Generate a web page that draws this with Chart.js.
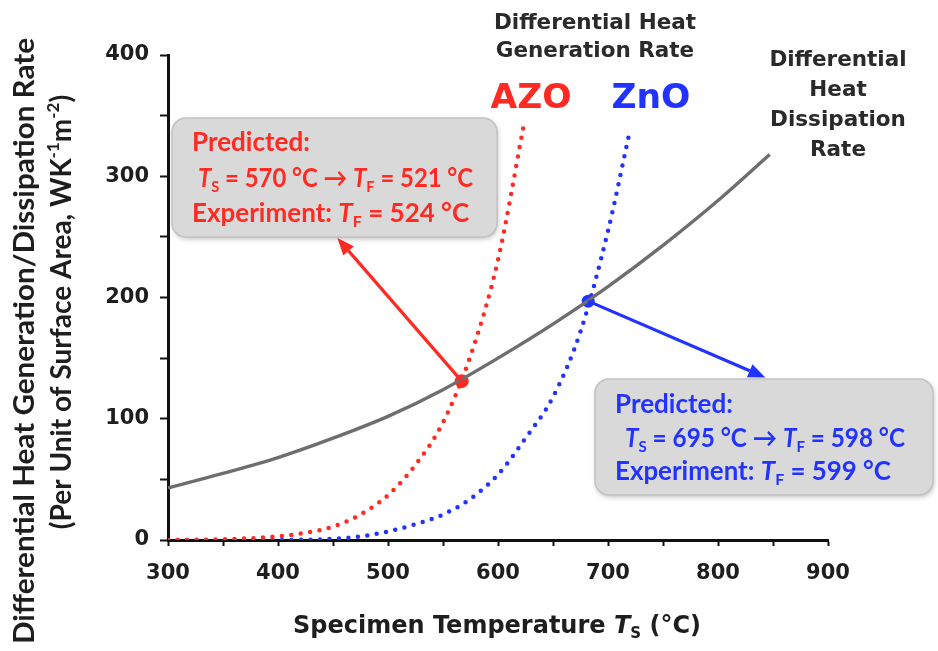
<!DOCTYPE html>
<html>
<head>
<meta charset="utf-8">
<script src="https://cdn.jsdelivr.net/npm/chart.js@4.4.1/dist/chart.umd.min.js"></script>
<style>
  html,body{margin:0;padding:0;background:#fff;}
  #wrap{width:938px;height:651px;}
</style>
</head>
<body>
<div id="wrap"><canvas id="heatChart" width="938" height="651"></canvas></div>
<script>
// Heat dissipation (grey) and heat generation curves for AZO / ZnO
const dissTemp=[300,350,400,450,500,550,600,650,700,750,800,847];
const dissRate=[43,55,68,84,102,124,150,178,209,243,280,318];

const azoTemp=[300,350,400,425,450,475,500,525,550,575,600,623];
const azoRate=[0,0.5,3,6,11,21,37,62,97,152,231,340];

const znoTemp=[300,400,450,475,500,525,550,575,600,625,650,675,700,720];
const znoRate=[0,0,1,3,7,13,21,34,54,84,118,172,255,338];

// crossing points of generation and dissipation curves
const crossTemp=[567,682];
const crossRate=[131,197];

const xTickLabels=[300,400,500,600,700,800,900];
const yTickLabels=[0,100,200,300,400];

const RED='#ff2a22', BLUE='#2233ff', GREY='#6e6e6e', INK='#1e1e1e';

const pts=(xs,ys)=>xs.map((x,i)=>({x:x,y:ys[i]}));

// draws a line of text made of parts: {t, it, sub, sup}
// fitW: squeeze (or stretch with exact=true) the line to that width
function richText(ctx,parts,x,y,size,family,color,align,fitW,exact){
  const fontOf=p=>{
    const s=(p.sub||p.sup)?Math.round(size*0.62):size;
    return (p.it?'italic ':'')+'bold '+s+'px '+family;
  };
  let w=0;
  parts.forEach(p=>{ ctx.font=fontOf(p); p.w=ctx.measureText(p.t).width; w+=p.w; });
  const k=(fitW&&(exact||w>fitW))?fitW/w:1;
  ctx.save();
  ctx.translate(align==='center'?x-w*k/2:x,y);
  ctx.scale(k,1);
  let cx=0;
  ctx.fillStyle=color;
  ctx.textAlign='left';
  ctx.textBaseline='middle';
  parts.forEach(p=>{
    ctx.font=fontOf(p);
    let dy=0;
    if(p.sub) dy=size*0.3;
    if(p.sup) dy=-size*0.32;
    ctx.fillText(p.t,cx,dy);
    cx+=p.w;
  });
  ctx.restore();
  return w*k;
}

function roundBox(ctx,x,y,w,h,r){
  ctx.save();
  ctx.beginPath();
  ctx.roundRect(x,y,w,h,r);
  ctx.shadowColor='rgba(0,0,0,0.25)';
  ctx.shadowBlur=5;
  ctx.shadowOffsetX=1; ctx.shadowOffsetY=2;
  ctx.fillStyle='#d9d9d9';
  ctx.fill();
  ctx.shadowColor='transparent';
  ctx.lineWidth=1.5;
  ctx.strokeStyle='#c2c2c2';
  ctx.stroke();
  ctx.restore();
}

function arrow(ctx,x1,y1,x2,y2,color){
  const a=Math.atan2(y2-y1,x2-x1), len=17, half=7;
  const bx=x2-len*Math.cos(a), by=y2-len*Math.sin(a);
  ctx.save();
  ctx.strokeStyle=color; ctx.fillStyle=color; ctx.lineWidth=3.2;
  ctx.beginPath(); ctx.moveTo(x1,y1); ctx.lineTo(bx,by); ctx.stroke();
  ctx.beginPath();
  ctx.moveTo(x2,y2);
  ctx.lineTo(bx+half*Math.sin(a),by-half*Math.cos(a));
  ctx.lineTo(bx-half*Math.sin(a),by+half*Math.cos(a));
  ctx.closePath(); ctx.fill();
  ctx.restore();
}

// arrow tips in data units (start from crossing points)
const arrowTips=[{x:454,y:249},{x:843,y:134}];

const notes={
  id:'notes',
  afterDatasetsDraw(chart){
    const {ctx,scales:{x,y}}=chart;
    arrow(ctx,x.getPixelForValue(crossTemp[0]),y.getPixelForValue(crossRate[0]),
      x.getPixelForValue(arrowTips[0].x),y.getPixelForValue(arrowTips[0].y),RED);
    arrow(ctx,x.getPixelForValue(crossTemp[1]),y.getPixelForValue(crossRate[1]),
      x.getPixelForValue(arrowTips[1].x),y.getPixelForValue(arrowTips[1].y),BLUE);
  },
  afterDraw(chart){
    const ctx=chart.ctx;
    const F='Lato';
    ctx.save();

    // result boxes
    roundBox(ctx,172,118,325,119,14);
    richText(ctx,[{t:'Predicted:'}],192,143,26,F,RED);
    richText(ctx,[{t:'T',it:1},{t:'S',sub:1},{t:' = 570 °C → '},{t:'T',it:1},{t:'F',sub:1},{t:' = 521 °C'}],198,179,26,F,RED,'left',275);
    richText(ctx,[{t:'Experiment: '},{t:'T',it:1},{t:'F',sub:1},{t:' = 524 °C'}],192,214,26,F,RED,'left',281);

    roundBox(ctx,595,379,338,116,14);
    richText(ctx,[{t:'Predicted:'}],615,405,26,F,BLUE);
    richText(ctx,[{t:'T',it:1},{t:'S',sub:1},{t:' = 695 °C → '},{t:'T',it:1},{t:'F',sub:1},{t:' = 598 °C'}],625,439,26,F,BLUE,'left',280);
    richText(ctx,[{t:'Experiment: '},{t:'T',it:1},{t:'F',sub:1},{t:' = 599 °C'}],615,472,26,F,BLUE,'left',276);

    // curve labels
    const D='DejaVu Sans';
    richText(ctx,[{t:'Differential Heat'}],595,23,21.5,D,'#2a2a2a','center');
    richText(ctx,[{t:'Generation Rate'}],595,51,21.5,D,'#2a2a2a','center');
    richText(ctx,[{t:'AZO'}],531,99,34.5,D,RED,'center');
    richText(ctx,[{t:'ZnO'}],651,99,34.5,D,BLUE,'center');
    ['Differential','Heat','Dissipation','Rate'].forEach((s,i)=>{
      richText(ctx,[{t:s}],838,60+i*30,21.5,D,'#2a2a2a','center');
    });

    // axis titles
    richText(ctx,[{t:'Specimen Temperature '},{t:'T',it:1},{t:'S',sub:1},{t:' (°C)'}],497,627,24,D,INK,'center');

    ctx.save();
    ctx.translate(25,341); ctx.rotate(-Math.PI/2);
    richText(ctx,[{t:'Differential Heat Generation/Dissipation Rate'}],0,0,28,F,INK,'center',606,true);
    ctx.restore();
    ctx.save();
    ctx.translate(62,312); ctx.rotate(-Math.PI/2);
    richText(ctx,[{t:'(Per Unit of Surface Area, WK'},{t:'-1',sup:1},{t:'m'},{t:'-2',sup:1},{t:')'}],0,0,28,F,INK,'center');
    ctx.restore();

    ctx.restore();
  }
};

// fixed axis boxes so the plot area sits where it should
const fixY=s=>{ s.width=168; s.paddingTop=s.paddingBottom=0; };
const fixX=s=>{ s.height=111; s.paddingLeft=s.paddingRight=0; };

const tickFont={family:'DejaVu Sans',weight:'bold',size:21};

new Chart(document.getElementById('heatChart').getContext('2d'),{
  type:'line',
  data:{
    datasets:[
      {label:'Dissipation',data:pts(dissTemp,dissRate),borderColor:GREY,borderWidth:3.4,
        pointRadius:0,cubicInterpolationMode:'monotone'},
      {label:'AZO',data:pts(azoTemp,azoRate),borderColor:RED,borderWidth:4.5,borderDash:[0,9.5],
        borderCapStyle:'round',pointRadius:0,cubicInterpolationMode:'monotone'},
      {label:'ZnO',data:pts(znoTemp,znoRate),borderColor:BLUE,borderWidth:4.5,borderDash:[0,9.5],
        borderCapStyle:'round',pointRadius:0,cubicInterpolationMode:'monotone'},
      {label:'Cross',data:pts(crossTemp,crossRate),showLine:false,pointRadius:[7,6.5],
        pointBackgroundColor:[RED,BLUE],pointBorderWidth:0}
    ]
  },
  options:{
    responsive:false,
    animation:false,
    devicePixelRatio:1,
    layout:{padding:{left:0,right:110,top:55,bottom:0}},
    plugins:{legend:{display:false},tooltip:{enabled:false}},
    scales:{
      x:{type:'linear',min:300,max:900,afterFit:fixX,
        ticks:{stepSize:50,autoSkip:false,maxRotation:0,font:tickFont,color:INK,padding:15,
          callback:v=>xTickLabels.includes(v)?String(v):''},
        grid:{drawOnChartArea:false,tickLength:6,tickColor:'#111',tickWidth:2},
        border:{color:'#111',width:3}},
      y:{min:0,max:400,afterFit:fixY,
        ticks:{stepSize:50,autoSkip:false,font:tickFont,color:INK,padding:11,
          callback:v=>yTickLabels.includes(v)?String(v):''},
        grid:{drawOnChartArea:false,tickLength:8,tickColor:'#111',tickWidth:2},
        border:{color:'#111',width:3}}
    }
  },
  plugins:[notes]
});
</script>
</body>
</html>
